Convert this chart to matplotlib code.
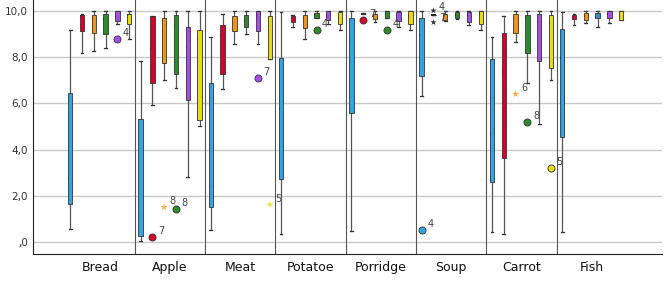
import matplotlib
matplotlib.use('Agg')
import matplotlib.pyplot as plt

categories = ['Bread', 'Apple', 'Meat', 'Potatoe', 'Porridge', 'Soup', 'Carrot', 'Fish']

# each row: whisker low, q1, median, q3, whisker high (one row per category)
blue = [[0.54, 1.62, 2.75, 6.44, 9.20],
        [0.04, 0.25, 1.11, 5.31, 7.83],
        [0.52, 1.52, 2.42, 6.88, 8.87],
        [0.32, 2.71, 5.76, 7.96, 9.95],
        [0.45, 5.60, 8.75, 9.69, 10.0],
        [6.31, 7.19, 8.97, 9.69, 10.0],
        [0.41, 2.59, 4.66, 7.91, 8.87],
        [0.41, 4.54, 7.97, 9.24, 9.95]]
red = [[8.20, 9.14, 9.79, 9.85, 9.88],
       [5.92, 6.87, 8.37, 9.79, 9.79],
       [6.61, 7.28, 8.97, 9.42, 9.89],
       [9.31, 9.54, 9.72, 9.81, 9.86],
       [9.87, 9.88, 9.90, 9.92, 9.94],
       [9.86, 9.86, 9.86, 9.86, 9.86],
       [0.32, 3.62, 7.38, 9.04, 9.81],
       [9.42, 9.65, 9.75, 9.85, 9.90]]
orange = [[8.26, 9.04, 9.73, 9.85, 10.0],
          [7.00, 7.75, 9.14, 9.69, 10.0],
          [8.56, 9.14, 9.53, 9.79, 10.0],
          [8.78, 9.26, 9.69, 9.86, 10.0],
          [9.52, 9.65, 9.81, 9.89, 10.0],
          [9.60, 9.62, 9.79, 9.89, 10.0],
          [8.65, 9.07, 9.69, 9.88, 10.0],
          [9.50, 9.62, 9.79, 9.91, 10.0]]
green = [[8.39, 9.00, 9.65, 9.89, 10.0],
         [6.68, 7.26, 9.37, 9.86, 10.0],
         [9.01, 9.33, 9.58, 9.86, 10.0],
         [9.69, 9.69, 9.82, 9.91, 10.0],
         [9.69, 9.69, 9.84, 10.0, 10.0],
         [9.65, 9.69, 9.82, 9.95, 10.0],
         [6.90, 8.20, 9.75, 9.85, 10.0],
         [9.33, 9.69, 9.75, 9.91, 10.0]]
purple = [[9.43, 9.56, 9.79, 10.0, 10.0],
          [2.79, 6.15, 8.46, 9.34, 10.0],
          [8.60, 9.14, 9.78, 10.0, 10.0],
          [9.43, 9.62, 9.79, 10.0, 10.0],
          [9.33, 9.59, 9.81, 9.97, 10.0],
          [9.40, 9.54, 9.82, 9.97, 10.0],
          [5.12, 7.84, 9.52, 9.90, 10.0],
          [9.50, 9.69, 9.90, 10.0, 10.0]]
yellow = [[8.79, 9.43, 9.82, 9.89, 10.0],
          [5.02, 5.27, 8.78, 9.20, 10.0],
          [7.93, 7.93, 9.36, 9.79, 10.0],
          [9.21, 9.47, 9.71, 9.97, 10.0],
          [9.21, 9.45, 9.79, 10.0, 10.0],
          [9.21, 9.45, 9.88, 10.0, 10.0],
          [7.00, 7.54, 9.50, 9.86, 10.0],
          [9.62, 9.62, 9.79, 10.0, 10.0]]

series = [blue, red, orange, green, purple, yellow]
colors = ['#2fa4e7', '#d7002a', '#f0951c', '#2c8c2c', '#a54de6', '#e8dc10']
fish_third_color = '#2f8fd0'

# outliers: category index, series index, value, case label, kind
out_cat = [0, 1, 1, 1, 2, 2, 3, 4, 4, 5, 5, 5, 5, 6, 6, 6]
out_ser = [4, 1, 2, 3, 4, 5, 3, 1, 3, 0, 1, 1, 1, 2, 3, 5]
out_val = [8.81, 0.20, 1.50, 1.42, 7.12, 1.62, 9.21, 9.62, 9.21, 0.52, 10.03, 9.72, 9.52, 6.41, 5.21, 3.21]
out_lab = ['4', '7', '8', '8', '7', '5', '4', '7', '4', '4', '4', '7', '', '6', '8', '5']
out_kind = ['o', 'o', '*', 'o', 'o', '*', 'o', 'o', 'o', 'o', 'x', 'n', 'x', '*', 'o', 'o']

yticks = [0, 2, 4, 6, 8, 10]
ytick_labels = [',0', '2,0', '4,0', '6,0', '8,0', '10,0']

offsets = [-0.42, -0.252, -0.084, 0.084, 0.252, 0.42]

fig = plt.figure(figsize=(6.69, 2.86), dpi=100)
ax = fig.add_axes([33/669, 32/286, 629/669, 254/286])

for y in yticks:
    ax.axhline(y, color='#c8c8c8', lw=1.0, zorder=0)
for b in range(len(categories) - 1):
    ax.axvline(b + 0.5, color='#555555', lw=0.8, zorder=1)

for j, data in enumerate(series):
    stats = []
    pos = []
    for i, row in enumerate(data):
        stats.append({'whislo': row[0], 'q1': row[1], 'med': row[2],
                      'q3': row[3], 'whishi': row[4], 'fliers': []})
        pos.append(i + offsets[j])
    res = ax.bxp(stats, positions=pos, widths=0.062, patch_artist=True,
                 showfliers=False, capwidths=0.04,
                 boxprops=dict(edgecolor='#333333', linewidth=0.6),
                 whiskerprops=dict(color='#555555', linewidth=0.9),
                 capprops=dict(color='#333333', linewidth=0.9),
                 medianprops=dict(color='#111111', linewidth=1.3))
    for i, box in enumerate(res['boxes']):
        c = colors[j]
        if j == 3 and categories[i] == 'Fish':
            c = fish_third_color
        box.set_facecolor(c)
        box.set_zorder(3)

for c, s, v, lab, kind in zip(out_cat, out_ser, out_val, out_lab, out_kind):
    x = c + offsets[s]
    dy = 2
    if kind == 'o':
        ax.scatter([x], [v], s=26, marker='o', color=colors[s],
                   edgecolors='#333333', linewidths=0.6, zorder=4)
    elif kind == '*':
        ax.scatter([x], [v], s=30, marker='*', color=colors[s],
                   edgecolors='none', alpha=0.75, zorder=4)
    elif kind == 'x':
        ax.scatter([x], [v], s=22, marker='*', color='#333333',
                   edgecolors='none', zorder=4)
        dy = 0.5
    else:
        dy = -2
    if lab:
        ax.annotate(lab, (x, v), xytext=(4, dy), textcoords='offset points',
                    fontsize=7, color='#444444', zorder=5)

ax.set_xlim(-0.95, 8.0)
ax.set_ylim(-0.53, 10.49)
ax.set_xticks(range(len(categories)))
ax.set_xticklabels(categories, fontsize=9, color='#111111')
ax.set_yticks(yticks)
ax.set_yticklabels(ytick_labels, fontsize=7.5, color='#333333')
ax.tick_params(axis='both', length=0)
ax.tick_params(axis='x', pad=5)
ax.spines['top'].set_visible(False)
ax.spines['right'].set_visible(False)
ax.spines['left'].set_color('#222222')
ax.spines['bottom'].set_color('#222222')

fig.savefig('out.png', dpi=100)
